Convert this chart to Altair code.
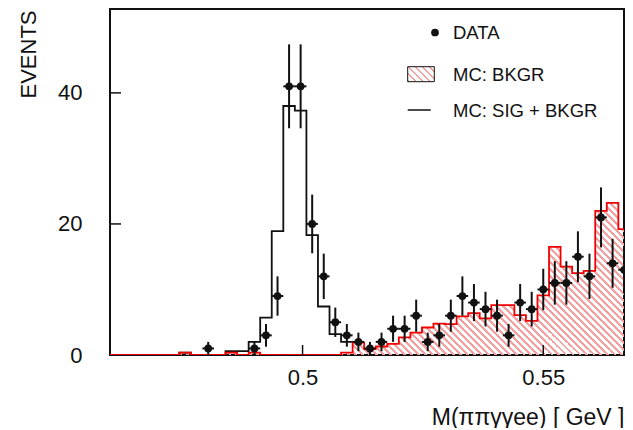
import numpy as np
import pandas as pd
import altair as alt

# ---------------- data ----------------
X_MIN, X_MAX = 0.46, 0.568
N_BINS = 45
BIN_W = (X_MAX - X_MIN) / N_BINS

# MC background (red hatched histogram), one value per bin
mc_bkgr = [0, 0, 0, 0, 0, 0, 0.35, 0, 0, 0,
           0.35, 0, 0.35, 0, 0, 0, 0, 0, 0, 0,
           0.35, 1.9, 0.9, 1.3, 1.7, 2.7, 3.4, 4.2, 4.8, 4.7,
           5.9, 6.4, 5.6, 7.6, 7.6, 6.1, 5.2, 9.1, 16.5, 13.5,
           12.5, 12.85, 22.0, 23.2, 19.2]

# MC signal + background (black histogram), one value per bin
mc_sig_bkgr = [0, 0, 0, 0, 0, 0, 0.35, 0, 0, 0,
               0.6, 0.6, 2.0, 5.7, 18.9, 38.0, 37.3, 18.3, 7.4, 3.2,
               2.0, 1.9, 0.9, 1.3, 1.7, 2.7, 3.4, 4.2, 4.8, 4.7,
               5.9, 6.4, 5.6, 7.6, 7.6, 6.1, 5.2, 9.1, 16.5, 13.5,
               12.5, 12.85, 22.0, 23.2, 19.2]

# DATA points: bin index and number of events
data_bins = [8, 12, 13, 14, 15, 16, 17, 18, 19, 20,
             21, 22, 23, 24, 25, 26, 27, 28, 29, 30,
             31, 32, 33, 34, 35, 36, 37, 38, 39, 40,
             41, 42, 43, 44]
data_counts = [1, 1, 3, 9, 41, 41, 20, 12, 5, 3,
               2, 1, 2, 4, 4, 6, 2, 3, 6, 9,
               8, 7, 6, 3, 8, 7, 10, 11, 11, 15,
               12, 21, 14, 13]

x_ticks = [0.5, 0.55]
y_ticks = [0, 20, 40]
legend_labels = ["DATA", "MC: BKGR", "MC: SIG + BKGR"]

# ---------------- layout / style ----------------
W, H = 514, 346
PX_PER_GEV = 4814.0          # horizontal scale of the reference plot
X_VIEW_MAX = X_MIN + W / PX_PER_GEV
Y_MAX = 52.8
FONT = "Liberation Sans"
INK = "#111111"
RED = "#f00000"
HATCH = "#f2a0a0"

xs = alt.Scale(domain=[X_MIN, X_VIEW_MAX], nice=False, zero=False)
ys = alt.Scale(domain=[0, Y_MAX], nice=False, zero=False)

x_axis = alt.Axis(values=x_ticks, format="~g", ticks=False, tickSize=0, domain=False,
                  grid=False, labelFontSize=22, labelFont=FONT, labelColor=INK,
                  labelPadding=12, labelFlush=False,
                  title="M(ππγγee) [ GeV ]", titleFont=FONT, titleFontSize=23,
                  titleFontWeight="normal", titleColor=INK, titleX=W, titleY=69,
                  titleAlign="right", titleBaseline="alphabetic")
y_axis = alt.Axis(values=y_ticks, ticks=False, tickSize=0, domain=False, grid=False,
                  labelFontSize=22, labelFont=FONT, labelColor=INK, labelPadding=28,
                  labelFlush=False,
                  title="EVENTS", titleFont=FONT, titleFontSize=22, titleFontWeight="normal",
                  titleColor=INK, titleAngle=270, titleX=-75, titleY=1,
                  titleAlign="right", titleBaseline="alphabetic")


def X(field):
    return alt.X(field, type="quantitative", scale=xs, axis=x_axis)


def Y(field):
    return alt.Y(field, type="quantitative", scale=ys, axis=y_axis)


def hatch(w, h, period=7.0, frac=0.3, color=HATCH):
    """diagonal '\\' hatching as a hard-stop linear gradient (bounding-box units)"""
    dy = -h / w
    s = (1 + h / w) / (1 + dy * dy)
    dt = period / (w + h)
    n = int(np.ceil(1 / dt)) + 1
    bg = "rgba(255,255,255,0)"
    stops = []
    for i in range(n):
        o = i * dt
        if o > 1:
            break
        e = min(o + frac * dt, 1.0)
        stops += [alt.GradientStop(color=bg, offset=o),
                  alt.GradientStop(color=color, offset=o),
                  alt.GradientStop(color=color, offset=e),
                  alt.GradientStop(color=bg, offset=e)]
    return alt.LinearGradient(gradient="linear", stops=stops,
                              x1=0, y1=1, x2=s, y2=1 + s * dy)


# ---------------- tables ----------------
edges = X_MIN + BIN_W * np.arange(N_BINS)
bk_df = pd.DataFrame({
    "x": list(edges) + [X_MAX, X_MAX],
    "bk": list(mc_bkgr) + [mc_bkgr[-1], 0],
})

# black outline is only visible where signal+background exceeds background
diff = [i for i in range(N_BINS) if mc_sig_bkgr[i] != mc_bkgr[i]]
last = diff[-1] + 1
sb_df = pd.DataFrame({
    "x": list(edges[: last + 1]),
    "sb": list(mc_sig_bkgr[: last + 1]),
})

centers = X_MIN + BIN_W * (np.array(data_bins) + 0.5)
cnt = np.array(data_counts, dtype=float)
pts = pd.DataFrame({
    "x": centers,
    "xlo": centers - BIN_W / 2,
    "xhi": centers + BIN_W / 2,
    "y": cnt,
    "lo": cnt - np.sqrt(cnt),
    "hi": cnt + np.sqrt(cnt),
})

one = pd.DataFrame({"i": [0]})

# ---------------- layers ----------------
# hatch bounding box: the area path spans X_MIN..X_MAX horizontally
area_w = (X_MAX - X_MIN) * PX_PER_GEV
bkgr_fill = alt.Chart(bk_df).mark_area(
    interpolate="step-after", fill=hatch(area_w, max(mc_bkgr) * H / Y_MAX), clip=True
).encode(x=X("x"), y=Y("bk"))

sig_line = alt.Chart(sb_df).mark_line(
    interpolate="step-after", color=INK, strokeWidth=1.8, clip=True
).encode(x=X("x"), y=Y("sb"))

bkgr_line = alt.Chart(bk_df).mark_line(
    interpolate="step-after", color=RED, strokeWidth=1.8, clip=True
).encode(x=X("x"), y=Y("bk"))

xt = alt.Chart(pd.DataFrame({"x": x_ticks})).mark_rule(color=INK, strokeWidth=1.5).encode(
    x=X("x"), y=alt.value(H), y2=alt.value(H - 10))
yt = alt.Chart(pd.DataFrame({"y": y_ticks[1:]})).mark_rule(color=INK, strokeWidth=1.5).encode(
    y=Y("y"), x=alt.value(0), x2=alt.value(11))

err_v = alt.Chart(pts).mark_rule(color=INK, strokeWidth=2).encode(
    x=X("x"), y=Y("lo"), y2=alt.Y2("hi"))
err_h = alt.Chart(pts).mark_rule(color=INK, strokeWidth=2).encode(
    x=X("xlo"), x2=alt.X2("xhi"), y=Y("y"))
dots = alt.Chart(pts).mark_point(filled=True, shape="circle", size=60, color=INK, opacity=1).encode(
    x=X("x"), y=Y("y"))

# legend
LX_TEXT = 343
leg_dot = alt.Chart(one).mark_point(filled=True, shape="circle", size=60, color=INK, opacity=1).encode(
    x=alt.value(325), y=alt.value(23.5))
leg_box = alt.Chart(one).mark_rect(fill=hatch(26.6, 15), stroke=INK, strokeWidth=1).encode(
    x=alt.value(297.7), x2=alt.value(324.3), y=alt.value(57.7), y2=alt.value(72.7))
leg_line = alt.Chart(one).mark_rule(color=INK, strokeWidth=1.5).encode(
    x=alt.value(297.7), x2=alt.value(320.7), y=alt.value(101))
leg_texts = [
    alt.Chart(one).mark_text(align="left", baseline="middle", font=FONT, fontSize=18.5, color=INK).encode(
        x=alt.value(LX_TEXT), y=alt.value(yy), text=alt.value(lab))
    for lab, yy in zip(legend_labels, [24, 65.5, 101.5])
]

chart = alt.layer(
    bkgr_fill, sig_line, bkgr_line, xt, yt, err_v, err_h, dots,
    leg_dot, leg_box, leg_line, *leg_texts
).properties(
    width=W, height=H,
    autosize=alt.AutoSizeParams(type="none"),
    padding={"left": 102, "top": 1, "right": 1, "bottom": 73},
    background="white",
).configure_view(stroke=INK, strokeWidth=2)

chart.save("out.html", embed_options={"renderer": "svg", "actions": False})
